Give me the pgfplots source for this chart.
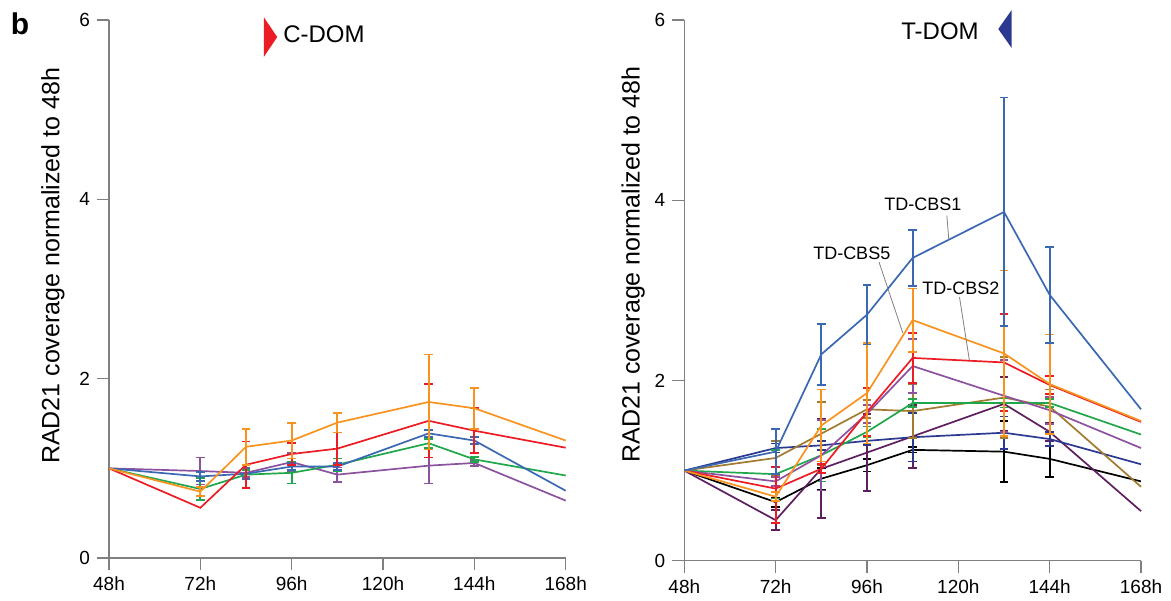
\documentclass[border=0pt]{standalone}
\usepackage{pgfplots}
\pgfplotsset{compat=1.18}
\usepackage{fontspec}
\setmainfont{Liberation Sans}
\definecolor{cOr}{HTML}{F7931E}
\definecolor{cRd}{HTML}{EC1C24}
\definecolor{cBl}{HTML}{3A68B2}
\definecolor{cGn}{HTML}{20A74B}
\definecolor{cPu}{HTML}{8C52A0}
\definecolor{cBr}{HTML}{A37B30}
\definecolor{cNv}{HTML}{2B3990}
\definecolor{cDp}{HTML}{5E1F5E}
\definecolor{cAx}{HTML}{808080}
\pgfplotsset{
  panel/.style={
    scale only axis, width=228.35pt,
    xmin=48, xmax=168, ymin=0, ymax=6,
    axis x line*=bottom, axis y line*=left,
    axis line style={draw=cAx, line width=0.6pt},
    tick style={draw=cAx, line width=0.6pt},
    tick align=outside, major tick length=6pt,
    xtick={48,72,96,120,144,168},
    xticklabels={48h,72h,96h,120h,144h,168h},
    ytick={0,2,4,6},
    /pgf/number format/assume math mode=true,
    tick label style={font=\fontsize{9.5}{11}\selectfont},
    ylabel={RAD21 coverage normalized to 48h},
    label style={font=\fontsize{12.5}{14}\selectfont},
    clip=false,
  },
  ln/.style={line width=0.85pt, mark=none, color=#1},
  ebar/.style={draw=none, mark=none, forget plot,
    error bars/y dir=both, error bars/y explicit,
    error bars/error bar style={draw=#1, line width=0.9pt},
    error bars/error mark options={draw=#1, rotate=90, mark size=2.2pt, line width=0.9pt}},
}
\begin{document}
\begin{tikzpicture}
% ---------- left panel: C-DOM ----------
\begin{axis}[panel, height=269pt, at={(0pt,0pt)}, anchor=south west,
  ylabel style={at={(axis description cs:-0.1226,0.543)}, anchor=center}]
% purple
\addplot[ln=cPu] coordinates {(48,1)(72,0.97)(84,0.95)(96,1.07)(108,0.93)(132,1.03)(144,1.06)(168,0.64)};
\addplot[ebar=cPu] coordinates {(72,0.97) +- (0,0.15) (84,0.95) +- (0,0.05) (96,1.07) +- (0,0.10) (108,0.93) +- (0,0.08) (132,1.03) +- (0,0.20) (144,1.06) +- (0,0.03)};
% green
\addplot[ln=cGn] coordinates {(48,1)(72,0.77)(84,0.93)(96,0.95)(108,1.04)(132,1.28)(144,1.10)(168,0.92)};
\addplot[ebar=cGn] coordinates {(72,0.77) +- (0,0.12) (84,0.93) +- (0,0.05) (96,0.95) +- (0,0.12) (108,1.04) +- (0,0.07) (132,1.28) +- (0,0.05) (144,1.10) +- (0,0.03)};
% blue
\addplot[ln=cBl] coordinates {(48,1)(72,0.91)(84,0.94)(96,1.02)(108,1.02)(132,1.39)(144,1.31)(168,0.75)};
\addplot[ebar=cBl] coordinates {(72,0.91) +- (0,0.05) (84,0.94) +- (0,0.06) (96,1.02) +- (0,0.04) (108,1.02) +- (0,0.04) (132,1.39) +- (0,0.04) (144,1.31) +- (0,0.04)};
% red
\addplot[ln=cRd] coordinates {(48,1)(72,0.56)(84,1.04)(96,1.16)(108,1.22)(132,1.53)(144,1.42)(168,1.23)};
\addplot[ebar=cRd] coordinates {(84,1.04) +- (0,0.26) (96,1.16) +- (0,0.12) (108,1.22) +- (0,0.18) (132,1.53) +- (0,0.41) (144,1.42) +- (0,0.25)};
% orange
\addplot[ln=cOr] coordinates {(48,1)(72,0.74)(84,1.24)(96,1.31)(108,1.51)(132,1.74)(144,1.67)(168,1.31)};
\addplot[ebar=cOr] coordinates {(72,0.74) +- (0,0.05) (84,1.24) +- (0,0.20) (96,1.31) +- (0,0.20) (108,1.51) +- (0,0.11) (132,1.74) +- (0,0.53) (144,1.67) +- (0,0.23)};
% title
\fill[cRd] (axis cs:88.7,6.03) -- (axis cs:92.2,5.81) -- (axis cs:88.7,5.59) -- cycle;
\node[anchor=west, font=\fontsize{12}{14}\selectfont, inner sep=0pt] at (axis cs:93.7,5.84) {C-DOM};
\node[font=\fontsize{15}{15}\selectfont\bfseries] at (axis cs:24.6,5.96) {b};
\end{axis}
% ---------- right panel: T-DOM ----------
\begin{axis}[panel, height=270.35pt, at={(287.65pt,-1.35pt)}, anchor=south west,
  ylabel style={at={(axis description cs:-0.112,0.548)}, anchor=center}]
% black
\addplot[ln=black] coordinates {(48,1)(72,0.65)(84,0.91)(96,1.06)(108,1.23)(132,1.21)(144,1.13)(168,0.88)};
\addplot[ebar=black] coordinates {(72,0.65) +- (0,0.05) (84,0.91) +- (0,0.12) (96,1.06) +- (0,0.07) (108,1.23) +- (0,0.03) (132,1.21) +- (0,0.34) (144,1.13) +- (0,0.20)};
% dark purple
\addplot[ln=cDp] coordinates {(48,1)(72,0.45)(84,1.02)(96,1.20)(108,1.38)(132,1.74)(144,1.43)(168,0.55)};
\addplot[ebar=cDp] coordinates {(72,0.45) +- (0,0.11) (84,1.02) +- (0,0.55) (96,1.20) +- (0,0.43) (108,1.38) +- (0,0.35) (132,1.74) +- (0,0.30) (144,1.43) +- (0,0.10)};
% navy
\addplot[ln=cNv] coordinates {(48,1)(72,1.25)(84,1.28)(96,1.33)(108,1.37)(132,1.42)(144,1.35)(168,1.07)};
\addplot[ebar=cNv] coordinates {(72,1.25) +- (0,0.05) (84,1.28) +- (0,0.05) (96,1.33) +- (0,0.05) (108,1.37) +- (0,0.27) (132,1.42) +- (0,0.18) (144,1.35) +- (0,0.08)};
% brown
\addplot[ln=cBr] coordinates {(48,1)(72,1.14)(84,1.41)(96,1.68)(108,1.66)(132,1.81)(144,1.71)(168,0.82)};
\addplot[ebar=cBr] coordinates {(72,1.14) +- (0,0.19) (84,1.41) +- (0,0.35) (96,1.68) +- (0,0.10) (108,1.66) +- (0,0.30) (132,1.81) +- (0,0.45) (144,1.71) +- (0,0.19)};
% green
\addplot[ln=cGn] coordinates {(48,1)(72,0.96)(84,1.17)(96,1.43)(108,1.75)(132,1.75)(144,1.75)(168,1.40)};
\addplot[ebar=cGn] coordinates {(72,0.96) +- (0,0.27) (84,1.17) +- (0,0.29) (96,1.43) +- (0,0.06) (108,1.75) +- (0,0.04) (132,1.75) +- (0,0.05) (144,1.75) +- (0,0.04)};
% purple
\addplot[ln=cPu] coordinates {(48,1)(72,0.88)(84,1.17)(96,1.63)(108,2.16)(132,1.83)(144,1.67)(168,1.25)};
\addplot[ebar=cPu] coordinates {(72,0.88) +- (0,0.05) (84,1.17) +- (0,0.39) (96,1.63) +- (0,0.10) (108,2.16) +- (0,0.30) (132,1.83) +- (0,0.40) (144,1.67) +- (0,0.15)};
% red TD-CBS2
\addplot[ln=cRd] coordinates {(48,1)(72,0.80)(84,1.02)(96,1.65)(108,2.25)(132,2.20)(144,1.95)(168,1.54)};
\addplot[ebar=cRd] coordinates {(72,0.80) += (0,0.24) -= (0,0.38) (84,1.02) +- (0,0.05) (96,1.65) +- (0,0.27) (108,2.25) +- (0,0.28) (132,2.20) +- (0,0.54) (144,1.95) +- (0,0.10)};
% orange TD-CBS5
\addplot[ln=cOr] coordinates {(48,1)(72,0.71)(84,1.50)(96,1.86)(108,2.67)(132,2.30)(144,1.96)(168,1.55)};
\addplot[ebar=cOr] coordinates {(72,0.71) +- (0,0.05) (84,1.50) +- (0,0.40) (96,1.86) +- (0,0.56) (108,2.67) +- (0,0.35) (132,2.30) +- (0,0.92) (144,1.96) +- (0,0.55)};
% blue TD-CBS1
\addplot[ln=cBl] coordinates {(48,1)(72,1.21)(84,2.29)(96,2.73)(108,3.36)(132,3.87)(144,2.95)(168,1.68)};
\addplot[ebar=cBl] coordinates {(72,1.21) +- (0,0.25) (84,2.29) +- (0,0.34) (96,2.73) +- (0,0.33) (108,3.36) +- (0,0.31) (132,3.87) +- (0,1.27) (144,2.95) +- (0,0.53)};
% annotations
\draw[gray, line width=0.4pt] (axis cs:116.98,3.83) -- (axis cs:117.5,3.563);
\draw[gray, line width=0.4pt] (axis cs:99.0,3.334) -- (axis cs:105.4,2.528);
\draw[gray, line width=0.4pt] (axis cs:120.3,2.927) -- (axis cs:122.9,2.225);
\node[font=\fontsize{9}{10}\selectfont, fill=white, inner sep=1pt] at (axis cs:110.7,3.95) {TD-CBS1};
\node[font=\fontsize{9}{10}\selectfont, fill=white, inner sep=1pt] at (axis cs:92.0,3.408) {TD-CBS5};
\node[font=\fontsize{9}{10}\selectfont, fill=white, inner sep=1pt] at (axis cs:120.7,3.02) {TD-CBS2};
% title
\node[font=\fontsize{12}{14}\selectfont] at (axis cs:115.2,5.88) {T-DOM};
\fill[cNv] (axis cs:134.0,6.11) -- (axis cs:130.5,5.90) -- (axis cs:134.0,5.69) -- cycle;
\end{axis}
\pgfresetboundingbox
\path (-54.5pt,-21pt) rectangle (531pt,279pt);
\end{tikzpicture}
\end{document}
